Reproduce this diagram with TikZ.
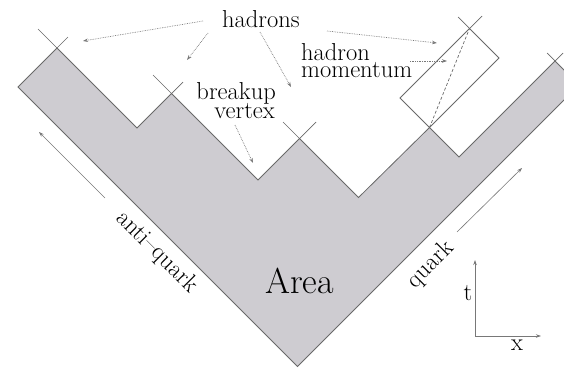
\documentclass[tikz,border=0pt]{standalone}
\usetikzlibrary{arrows.meta}
\definecolor{areafill}{RGB}{206,204,209}
\definecolor{edgecol}{RGB}{105,105,105}
\definecolor{arrcol}{RGB}{120,120,120}
\begin{document}
\begin{tikzpicture}[x=1pt,y=-1pt,
  lbl/.style={inner sep=0pt,font=\rmfamily\fontsize{24.5}{24.5}\selectfont},
  edge/.style={draw=edgecol,line width=0.8pt},
  crossline/.style={draw=edgecol,line width=0.7pt},
  ptr/.style={draw=arrcol,line width=0.7pt,densely dotted,-{Stealth[length=5pt,width=3.5pt]}},
  qarrow/.style={draw=arrcol,line width=0.6pt,-{Stealth[length=5pt,width=3.5pt]}},
  axisarrow/.style={draw=arrcol,line width=0.8pt,-{Stealth[length=5pt,width=3.5pt]}}]
\useasboundingbox (0,0) rectangle (564,370);
% vertices
\coordinate (A) at (18,87);
\coordinate (t1) at (57,48);
\coordinate (v1) at (137,128);
\coordinate (t2) at (171.5,93.5);
\coordinate (v2) at (258,180);
\coordinate (t3) at (299.5,138.5);
\coordinate (v3) at (358.5,197.5);
\coordinate (t4) at (429.5,127.5);
\coordinate (v4) at (459,157);
\coordinate (t5) at (555,61);
\coordinate (C) at (579,85);
\coordinate (B) at (297.5,366.5);
% shaded area
\begin{scope}
\clip (0,0) rectangle (564,370);
\path[fill=areafill,edge] (A) -- (t1) -- (v1) -- (t2) -- (v2) -- (t3) -- (v3) -- (t4) -- (v4) -- (t5) -- (C) -- (B) -- cycle;
\end{scope}
% crosses at hadron tips
\draw[crossline] (t1) -- (38,29);
\draw[crossline] (t1) -- (68,37);
\draw[crossline] (t2) -- (153,75);
\draw[crossline] (t2) -- (183,82);
\draw[crossline] (t3) -- (283,122);
\draw[crossline] (t3) -- (316,122);
\draw[crossline] (t5) -- (547,53);
\draw[crossline] (t5) -- (563,53);
% hadron momentum rectangle
\coordinate (r1) at (400,98);
\coordinate (r2) at (469.5,28.5);
\coordinate (r3) at (499,58);
\draw[edge] (t4) -- (r1) -- (r2) -- (r3) -- cycle;
\draw[crossline] (r2) -- (458,17);
\draw[crossline] (r2) -- (482,16);
\draw[draw=edgecol,line width=0.7pt,densely dashed] (t4) -- (r2);
% labels
\node[lbl,anchor=base west] (had) at (222,27) {hadrons};
\node[lbl,anchor=base east] (brk) at (276,99) {breakup};
\node[lbl,anchor=base east] (vtx) at (275,118) {vertex};
\node[lbl,anchor=base west] (hm1) at (301,60) {hadron};
\node[lbl,anchor=base west] (hm2) at (301,77) {momentum};
\node[inner sep=0pt,font=\rmfamily\fontsize{36}{36}\selectfont,anchor=base west] (area) at (265,293) {Area};
\node[lbl,rotate=-45] (aq) at (157,252) {anti--quark};
\node[lbl,rotate=45] (q) at (431,265) {quark};
\node[lbl] (tl) at (468,293) {t};
\node[lbl] (xl) at (517,345) {x};
% pointer arrows
\coordinate (s1) at (203,21);  \coordinate (e1) at (83,41);
\coordinate (s2) at (208,33);  \coordinate (e2) at (187,60);
\coordinate (s3) at (260,32);  \coordinate (e3) at (291,87);
\coordinate (s4) at (327,31);  \coordinate (e4) at (437,43);
\coordinate (s5) at (410,61);  \coordinate (e5) at (447,61);
\coordinate (s6) at (235,125); \coordinate (e6) at (253,163);
\draw[ptr] (s1) -- (e1);
\draw[ptr] (s2) -- (e2);
\draw[ptr] (s3) -- (e3);
\draw[ptr] (s4) -- (e4);
\draw[ptr] (s5) -- (e5);
\draw[ptr] (s6) -- (e6);
% quark direction arrows
\coordinate (qa1) at (105,198); \coordinate (qa2) at (39,132);
\coordinate (qb1) at (457,232); \coordinate (qb2) at (522,168);
\draw[qarrow] (qa1) -- (qa2);
\draw[qarrow] (qb1) -- (qb2);
% axes
\coordinate (O) at (475,336);
\coordinate (T) at (475,260);
\coordinate (X) at (541,336);
\draw[axisarrow] (O) -- (T);
\draw[axisarrow] (O) -- (X);
\end{tikzpicture}
\end{document}
